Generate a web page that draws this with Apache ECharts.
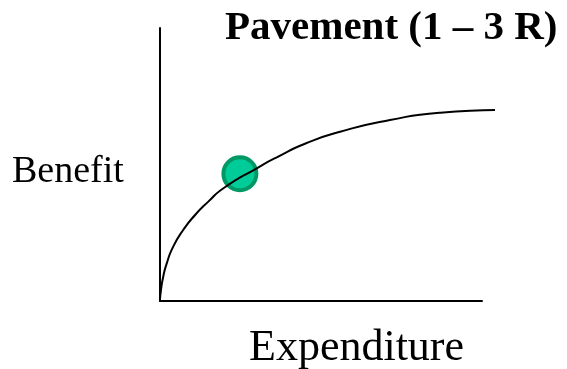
<!DOCTYPE html>
<html>
<head>
<meta charset="utf-8">
<script src="https://cdn.jsdelivr.net/npm/echarts@6/dist/echarts.min.js"></script>
<style>
    html, body { margin: 0; padding: 0; background: #fff; }
    #chart { width: 567px; height: 369px; }
</style>
</head>
<body>
<div id="chart"></div>
<script>
// curve (expenditure -> benefit, arbitrary units)
let curveX = [0, 0.3, 1.0, 2.1, 4.1, 7.2, 10.9, 15.0, 19.7, 30.3, 36.7, 45.0, 55.9, 71.4, 87.0, 104.0];
let curveY = [0.7, 4.0, 8.9, 13.8, 19.9, 26.0, 31.5, 36.4, 41.3, 48.8, 52.9, 57.6, 62.0, 66.3, 69.0, 70.0];
// the green point
let pointX = [24.8];
let pointY = [46.6];

let titleText = 'Pavement (1 – 3 R)';
let yName = 'Benefit';
let xName = 'Expenditure';

window.onload = function() {
    drawChart();
}

function zip(xs, ys) {
    return xs.map((x, i) => [x, ys[i]]);
}

function drawChart() {
    var dom = document.getElementById('chart');
    var myChart = echarts.init(dom);
    let font = '"Liberation Serif", "Times New Roman", serif';
    let hidden = {
        axisLine: { show: false },
        axisTick: { show: false },
        axisLabel: { show: false },
        splitLine: { show: false }
    };
    let shown = {
        axisLine: { show: true, lineStyle: { color: '#000', width: 2 } },
        axisTick: { show: false },
        axisLabel: { show: false },
        splitLine: { show: false }
    };
    let option = {
        backgroundColor: '#fff',
        animation: false,
        title: [
            {
                text: titleText,
                left: 220,
                top: 3,
                textStyle: { fontFamily: font, fontWeight: 'bold', fontSize: 41, color: '#000' }
            },
            {
                text: yName,
                left: 7,
                top: 148,
                textStyle: { fontFamily: font, fontWeight: 'normal', fontSize: 38, color: '#000' }
            },
            {
                text: xName,
                left: 244,
                top: 321,
                textStyle: { fontFamily: font, fontWeight: 'normal', fontSize: 44, color: '#000' }
            }
        ],
        // grid 0 carries the axis lines, grid 1 the curve (which runs past the x axis end)
        grid: [
            { left: 160, top: 28, right: 85, bottom: 68 },
            { left: 160, top: 28, right: 72, bottom: 68 }
        ],
        xAxis: [
            Object.assign({ type: 'value', min: 0, max: 100, gridIndex: 0 }, shown),
            Object.assign({ type: 'value', min: 0, max: 104, gridIndex: 1 }, hidden)
        ],
        yAxis: [
            Object.assign({ type: 'value', min: 0, max: 100, gridIndex: 0 }, shown),
            Object.assign({ type: 'value', min: 0, max: 100, gridIndex: 1 }, hidden)
        ],
        series: [
            {
                type: 'line',
                xAxisIndex: 1,
                yAxisIndex: 1,
                data: zip(curveX, curveY),
                smooth: 0.6,
                showSymbol: false,
                lineStyle: { color: '#000', width: 2 }
            },
            {
                type: 'scatter',
                xAxisIndex: 1,
                yAxisIndex: 1,
                data: zip(pointX, pointY),
                symbolSize: 33,
                itemStyle: { color: '#00CC99', borderColor: '#009966', borderWidth: 4, opacity: 1 }
            }
        ]
    };
    myChart.setOption(option, true);
}
</script>
</body>
</html>
